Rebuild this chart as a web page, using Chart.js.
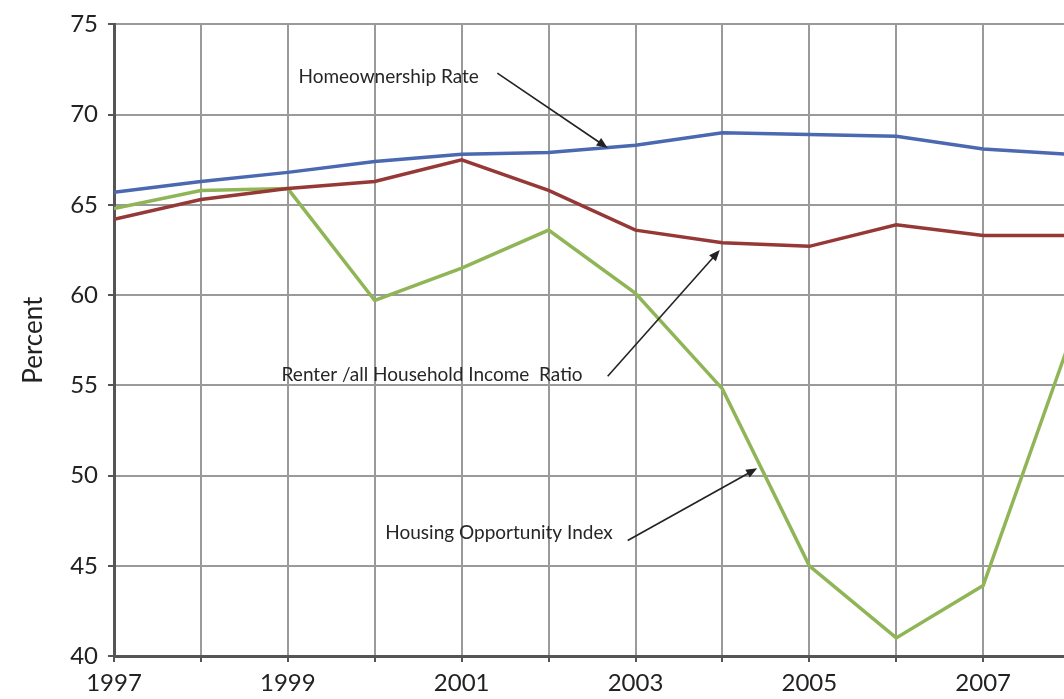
<!DOCTYPE html>
<html>
<head>
<meta charset="utf-8">
<script src="https://cdn.jsdelivr.net/npm/chart.js@4/dist/chart.umd.min.js"></script>
<style>
  html, body { margin: 0; padding: 0; background: #fff; overflow: hidden; }
  #wrap { width: 1064px; height: 699px; }
</style>
</head>
<body>
<div id="wrap"><canvas id="lineChart"></canvas></div>
<script>
var years = [1997, 1998, 1999, 2000, 2001, 2002, 2003, 2004, 2005, 2006, 2007, 2008];
var homeownership = [65.7, 66.3, 66.8, 67.4, 67.8, 67.9, 68.3, 69.0, 68.9, 68.8, 68.1, 67.8];
var renterRatio = [64.2, 65.3, 65.9, 66.3, 67.5, 65.8, 63.6, 62.9, 62.7, 63.9, 63.3, 63.3];
var opportunity = [64.8, 65.8, 65.9, 59.7, 61.5, 63.6, 60.1, 54.8, 45.0, 41.0, 43.9, 57.5];
var yTicks = [40, 45, 50, 55, 60, 65, 70, 75];

// callouts, positions in data units
var notes = [
  { text: "Homeownership Rate", x: 2000.16, y: 72.1, from: [2001.41, 72.3], to: [2002.68, 68.15] },
  { text: "Renter /all Household Income  Ratio", x: 2000.66, y: 55.6, from: [2002.68, 55.5], to: [2003.97, 62.5] },
  { text: "Housing Opportunity Index", x: 2001.43, y: 46.8, from: [2002.91, 46.4], to: [2004.4, 50.4] }
];

function pairs(vals) {
  var out = [];
  for (var i = 0; i < years.length; i++) {
    out.push({ x: years[i], y: vals[i] });
  }
  return out;
}

var calloutPlugin = {
  id: "callouts",
  afterDatasetsDraw: function(chart) {
    var ctx = chart.ctx;
    var xs = chart.scales.x, ys = chart.scales.y;
    ctx.save();
    ctx.font = "19px Lato";
    ctx.fillStyle = "#262626";
    ctx.textAlign = "center";
    ctx.textBaseline = "middle";
    notes.forEach(function(n) {
      ctx.fillText(n.text, xs.getPixelForValue(n.x), ys.getPixelForValue(n.y));
      var x1 = xs.getPixelForValue(n.from[0]), y1 = ys.getPixelForValue(n.from[1]);
      var x2 = xs.getPixelForValue(n.to[0]), y2 = ys.getPixelForValue(n.to[1]);
      var a = Math.atan2(y2 - y1, x2 - x1);
      ctx.strokeStyle = "#222";
      ctx.lineWidth = 1.6;
      ctx.beginPath();
      ctx.moveTo(x1, y1);
      ctx.lineTo(x2 - 8 * Math.cos(a), y2 - 8 * Math.sin(a));
      ctx.stroke();
      ctx.fillStyle = "#222";
      ctx.beginPath();
      ctx.moveTo(x2, y2);
      ctx.lineTo(x2 - 11 * Math.cos(a) + 4.5 * Math.sin(a), y2 - 11 * Math.sin(a) - 4.5 * Math.cos(a));
      ctx.lineTo(x2 - 11 * Math.cos(a) - 4.5 * Math.sin(a), y2 - 11 * Math.sin(a) + 4.5 * Math.cos(a));
      ctx.closePath();
      ctx.fill();
      ctx.fillStyle = "#262626";
    });
    ctx.restore();
  }
};

var canvas = document.getElementById("lineChart");
var ctx = canvas.getContext("2d");

new Chart(ctx, {
  type: "line",
  data: {
    datasets: [
      { label: "Homeownership Rate", data: pairs(homeownership), borderColor: "#4a69b1", borderWidth: 3.5 },
      { label: "Renter /all Household Income Ratio", data: pairs(renterRatio), borderColor: "#963936", borderWidth: 3.5 },
      { label: "Housing Opportunity Index", data: pairs(opportunity), borderColor: "#8fb556", borderWidth: 3.5 }
    ]
  },
  options: {
    responsive: true,
    maintainAspectRatio: false,
    animation: false,
    layout: { padding: { top: 16, right: 0, left: 0, bottom: 0 } },
    elements: { point: { radius: 0 }, line: { tension: 0 } },
    plugins: { legend: { display: false }, tooltip: { enabled: false } },
    scales: {
      x: {
        type: "linear",
        min: 1997,
        max: 2007.93,
        afterBuildTicks: function(scale) {
          scale.ticks = years.filter(function(y) { return y <= 2007; }).map(function(y) { return { value: y }; });
        },
        afterFit: function(scale) { scale.height = 43; },
        ticks: {
          autoSkip: false,
          maxRotation: 0,
          padding: 7,
          color: "#222",
          font: { family: "Lato", size: 24 },
          callback: function(v) { return v % 2 === 1 ? String(v) : ""; }
        },
        grid: { color: "#9a9a9a", lineWidth: 2, tickLength: 6, tickColor: "#555" },
        border: { color: "#555", width: 3 }
      },
      y: {
        min: 40,
        max: 75,
        afterBuildTicks: function(scale) {
          scale.ticks = yTicks.map(function(v) { return { value: v }; });
        },
        afterFit: function(scale) { scale.width = 114; },
        ticks: {
          padding: 10,
          color: "#222",
          font: { family: "Lato", size: 24 }
        },
        title: {
          display: true,
          text: "Percent",
          color: "#222",
          font: { family: "Lato", size: 26 },
          padding: { top: 18, bottom: 0 }
        },
        grid: { color: "#9a9a9a", lineWidth: 2, tickLength: 6, tickColor: "#555" },
        border: { color: "#555", width: 3 }
      }
    }
  },
  plugins: [calloutPlugin]
});
</script>
</body>
</html>
